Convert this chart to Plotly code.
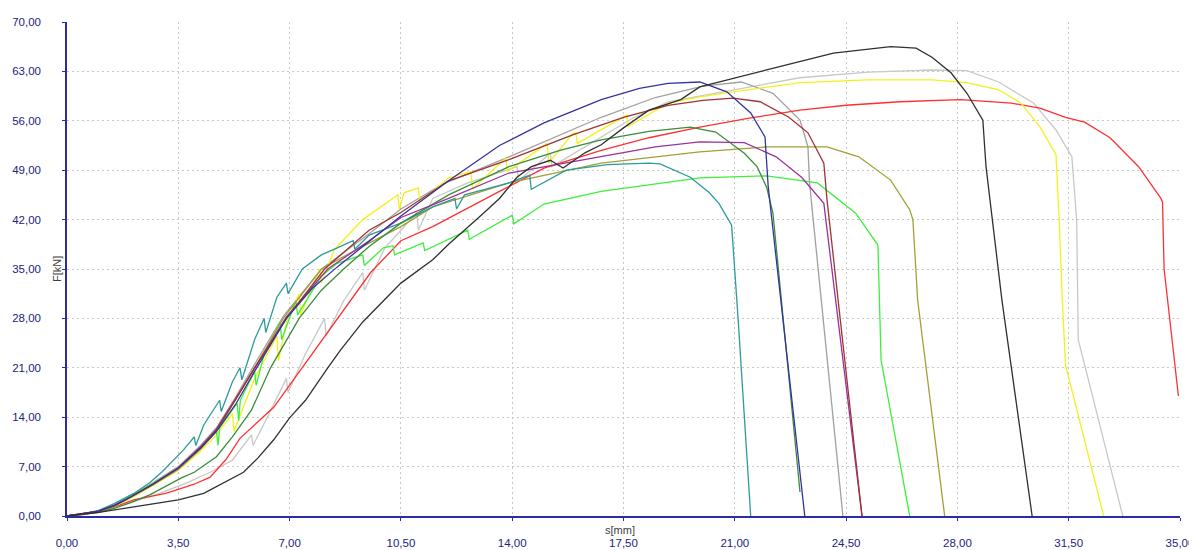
import plotly.graph_objects as go

# ---- data (s [mm], F [kN]) ----
TEAL_S = [0, 0.5, 1, 1.5, 2.1, 2.6, 3, 3.65, 4.0, 4.05, 4.3, 4.8, 4.85, 5.2, 5.44, 5.5, 5.9, 6.2, 6.25, 6.6, 6.9, 6.95, 7.4, 8.0, 8.5, 9.0, 9.05, 9.5, 10.5, 11.5, 12.2, 12.25, 12.5, 13.9, 14.55, 14.6, 15.7, 17.0, 18.3, 18.65, 19.6, 20.2, 20.5, 20.9, 21.1, 21.5]
TEAL_F = [0, 0.3, 0.8, 1.8, 3.2, 4.7, 6.3, 9.3, 11.2, 10.0, 12.9, 16.4, 14.8, 19.0, 21.0, 19.3, 25.0, 28.0, 26.0, 31.0, 33.0, 31.5, 35.0, 37.0, 38.0, 39.0, 37.8, 39.8, 41.5, 43.8, 45.0, 43.5, 45.5, 47.2, 48.3, 46.3, 49.0, 49.8, 50.0, 49.9, 48.0, 45.8, 44.3, 41.2, 28.2, 0]

DKGREEN_S = [0, 0.5, 1, 1.5, 2, 2.6, 3.1, 3.6, 4.0, 4.7, 5.2, 5.8, 6.4, 7.3, 8.0, 8.7, 9.5, 10.5, 12.0, 13.9, 15.5, 16.8, 18.3, 19.6, 20.4, 20.9, 21.3, 21.7, 22.0, 22.2, 23.05]
DKGREEN_F = [0, 0.2, 0.5, 1.1, 1.9, 3.0, 4.2, 5.4, 6.2, 8.4, 11.2, 15.0, 21.0, 28.0, 32.0, 35.0, 38.2, 41.5, 45.5, 49.5, 51.8, 53.3, 54.5, 55.1, 54.4, 52.8, 51.4, 49.5, 46.6, 42.9, 3.4]

NAVY_S = [0, 0.5, 1, 1.5, 2, 2.7, 3.5, 4.2, 4.7, 5.3, 5.9, 6.9, 7.7, 8.5, 9.95, 10.5, 12.0, 13.6, 15.0, 16.8, 18.0, 18.9, 19.9, 20.75, 21.5, 21.95, 22.05, 23.2]
NAVY_F = [0, 0.3, 0.7, 1.5, 2.7, 4.5, 6.8, 9.6, 12.0, 15.8, 20.5, 28.0, 32.2, 35.3, 40.5, 42.5, 47.5, 52.5, 55.7, 59.0, 60.6, 61.3, 61.5, 60.1, 57.1, 53.7, 46.7, 0]

DKGREY_S = [0, 0.5, 1, 1.5, 2, 2.7, 3.5, 4.2, 4.7, 5.3, 5.9, 6.8, 8.0, 9.5, 10.5, 11.8, 13.9, 15.5, 16.8, 18.5, 20.0, 21.2, 22.2, 23.05, 23.3, 23.35, 24.4]
DKGREY_F = [0, 0.3, 0.75, 1.6, 2.8, 4.7, 7.0, 10.0, 12.5, 16.8, 21.5, 28.3, 35.0, 40.0, 43.5, 47.0, 50.9, 54.0, 56.5, 59.3, 60.9, 61.5, 59.9, 56.1, 52.3, 47.2, 0]

MAROON_S = [0, 0.5, 1, 1.5, 2, 2.7, 3.5, 4.2, 4.7, 5.3, 5.9, 6.9, 8.1, 9.5, 10.5, 12.0, 13.9, 15.9, 17.5, 18.9, 20.0, 20.95, 21.8, 22.7, 23.3, 23.8, 23.9, 25.0]
MAROON_F = [0, 0.3, 0.7, 1.5, 2.7, 4.5, 6.8, 9.7, 12.2, 16.5, 21.0, 28.0, 35.0, 40.5, 43.0, 47.5, 50.5, 54.0, 56.5, 58.2, 58.9, 59.2, 58.7, 56.5, 54.3, 50.0, 44.8, 0]

PURPLE_S = [0, 0.5, 1, 1.5, 2, 2.7, 3.5, 4.2, 4.7, 5.3, 5.9, 6.9, 8.2, 9.5, 10.5, 12.0, 13.9, 16.8, 18.5, 19.9, 21.3, 22.3, 23.1, 23.8, 25.0]
PURPLE_F = [0, 0.3, 0.7, 1.5, 2.7, 4.5, 6.8, 9.8, 12.3, 16.6, 21.0, 28.2, 35.0, 39.0, 42.3, 45.0, 48.6, 50.9, 52.3, 53.0, 52.9, 50.9, 48.0, 44.3, 0]

OLIVE_S = [0, 0.5, 1, 1.5, 2, 2.7, 3.5, 4.2, 4.7, 5.3, 5.9, 6.8, 8.0, 9.0, 10.5, 11.5, 13.9, 16.8, 19.9, 22.0, 23.9, 24.9, 25.9, 26.5, 26.6, 26.75, 27.6]
OLIVE_F = [0, 0.25, 0.6, 1.4, 2.6, 4.4, 6.6, 9.5, 12.0, 16.4, 21.0, 28.0, 35.0, 37.5, 41.0, 43.8, 47.2, 50.0, 51.6, 52.3, 52.3, 50.9, 47.6, 43.4, 42.0, 30.6, 0]

LTGREEN_S = [0, 0.5, 1, 1.5, 2, 2.7, 3.5, 4.2, 4.7, 4.75, 4.8, 5.35, 5.4, 5.45, 5.9, 5.95, 6.2, 6.7, 6.75, 7.2, 7.25, 8.0, 8.5, 9.3, 9.35, 9.95, 10.25, 10.3, 11.2, 11.25, 12.6, 12.65, 14.0, 14.05, 15.0, 16.8, 19.9, 22.0, 23.6, 24.8, 25.5, 25.6, 26.5]
LTGREEN_F = [0, 0.3, 0.7, 1.5, 2.8, 4.5, 6.7, 9.6, 12.0, 10.0, 12.5, 16.0, 13.5, 16.4, 20.5, 18.5, 23.0, 27.5, 25.0, 30.5, 28.5, 34.0, 35.8, 37.0, 35.5, 38.0, 38.3, 37.0, 38.7, 37.6, 40.5, 39.2, 42.6, 41.4, 44.2, 46.0, 47.9, 48.2, 47.2, 42.9, 38.4, 22.1, 0]

YELLOW_S = [0, 0.5, 1, 1.5, 2, 2.7, 3.5, 4.2, 4.7, 5.2, 5.25, 5.9, 6.6, 6.65, 6.9, 7.3, 7.35, 7.95, 8.0, 8.4, 9.3, 10.4, 10.45, 10.6, 11.05, 11.1, 12.0, 12.7, 12.75, 13.5, 13.8, 13.85, 15.1, 15.15, 15.9, 16.0, 16.05, 17.6, 17.65, 18.9, 19.9, 20.95, 23.05, 25.2, 27.2, 28.3, 29.3, 30.0, 30.6, 31.1, 31.2, 31.3, 31.4, 32.6]
YELLOW_F = [0, 0.25, 0.6, 1.4, 2.5, 4.3, 6.5, 9.2, 11.5, 14.5, 12.0, 19.5, 25.5, 22.0, 27.5, 31.5, 28.5, 35.0, 33.0, 37.7, 42.0, 45.5, 43.5, 45.8, 46.5, 44.5, 47.9, 48.8, 46.3, 49.5, 50.7, 48.8, 52.8, 50.0, 54.2, 54.3, 52.8, 56.8, 55.2, 58.5, 59.4, 60.1, 61.4, 61.8, 61.8, 61.4, 60.4, 58.5, 55.1, 51.2, 42.0, 30.6, 21.4, 0]

RED_S = [0, 0.5, 1, 1.5, 2.1, 3.1, 3.45, 4.0, 4.5, 5.0, 5.44, 6.0, 6.5, 7.2, 8.35, 9.55, 10.5, 11.5, 13.6, 15.0, 16.8, 18.3, 19.9, 21.5, 23.05, 24.5, 26.2, 28.1, 29.7, 30.6, 31.4, 32.0, 32.8, 33.7, 34.4, 34.45, 34.5, 34.95]
RED_F = [0, 0.2, 0.6, 1.3, 2.3, 3.2, 3.7, 4.5, 5.5, 8.0, 11.0, 13.4, 15.4, 19.8, 27.0, 34.5, 39.0, 41.0, 46.0, 49.3, 51.8, 53.6, 55.1, 56.4, 57.5, 58.2, 58.7, 59.0, 58.5, 57.8, 56.5, 55.8, 53.6, 49.5, 45.0, 44.5, 35.0, 17.0]

LTGREY_S = [0, 0.5, 1, 1.5, 2, 2.9, 3.77, 4.5, 5.2, 5.8, 5.85, 6.3, 6.9, 6.95, 7.5, 8.1, 8.15, 8.7, 9.3, 9.35, 10.0, 10.5, 11.0, 11.05, 11.5, 12.6, 14.15, 14.2, 15.2, 15.25, 16.8, 17.8, 18.9, 20.95, 23.05, 25.2, 27.2, 28.3, 29.3, 30.4, 31.1, 31.6, 31.75, 31.8, 33.2]
LTGREY_F = [0, 0.2, 0.5, 1.1, 1.9, 3.2, 4.7, 6.2, 7.9, 11.5, 10.0, 14.0, 19.5, 17.5, 23.0, 28.0, 25.5, 30.5, 34.5, 32.0, 38.0, 40.5, 43.0, 40.5, 45.0, 47.2, 49.5, 47.5, 51.4, 49.5, 53.7, 56.4, 58.7, 60.4, 62.1, 62.9, 63.2, 63.1, 61.5, 58.5, 54.7, 50.9, 42.0, 25.0, 0]

BLACK_S = [0, 1, 2.1, 3.5, 4.3, 5.55, 6.0, 6.5, 7.0, 7.5, 8.2, 8.6, 9.3, 10.5, 11.5, 12.0, 13.0, 13.6, 14.15, 14.6, 15.2, 15.6, 16.3, 16.8, 17.5, 18.3, 19.3, 19.9, 22.0, 24.1, 25.9, 26.7, 27.2, 27.8, 28.3, 28.8, 28.9, 29.4, 30.35]
BLACK_F = [0, 0.5, 1.3, 2.3, 3.2, 6.2, 8.2, 10.8, 13.9, 16.4, 21.0, 23.5, 27.5, 33.0, 36.3, 38.5, 42.5, 45.0, 48.0, 49.5, 50.4, 49.3, 51.5, 52.6, 55.0, 57.5, 59.0, 60.8, 63.2, 65.6, 66.5, 66.3, 65.0, 62.8, 59.9, 56.1, 49.5, 30.6, 0]

X_TICKS = [0, 3.5, 7, 10.5, 14, 17.5, 21, 24.5, 28, 31.5, 35]
Y_TICKS = [0, 7, 14, 21, 28, 35, 42, 49, 56, 63, 70]

series = [
    (LTGREY_S, LTGREY_F, "#c8c8c8"),
    (DKGREY_S, DKGREY_F, "#a0a0a0"),
    (RED_S, RED_F, "#ff3030"),
    (YELLOW_S, YELLOW_F, "#f2f21a"),
    (LTGREEN_S, LTGREEN_F, "#3cf03c"),
    (OLIVE_S, OLIVE_F, "#a0a038"),
    (TEAL_S, TEAL_F, "#2e9a9a"),
    (DKGREEN_S, DKGREEN_F, "#3a8c3a"),
    (PURPLE_S, PURPLE_F, "#9a339a"),
    (MAROON_S, MAROON_F, "#a03232"),
    (NAVY_S, NAVY_F, "#3434a0"),
    (BLACK_S, BLACK_F, "#303030"),
]

fig = go.Figure()
for s, f, c in series:
    fig.add_trace(go.Scatter(x=s, y=f, mode="lines", line=dict(color=c, width=1.3),
                             hoverinfo="skip", showlegend=False))

axis_col = "#2b2ba6"
lbl_col = "#222280"
common = dict(showgrid=True, gridcolor="#c8c8c8", griddash="2px,3px", gridwidth=1,
              zeroline=False, showline=True, linecolor=axis_col, linewidth=1.5,
              ticks="outside", ticklen=3, tickcolor=axis_col, tickformat=".2f",
              automargin=False, tickfont=dict(size=11.5, color=lbl_col))
# the page body adds an 8px offset, so the figure is 8px smaller on each axis
fig.update_layout(
    width=1189, height=542,
    margin=dict(l=59, r=17, t=14, b=34),
    paper_bgcolor="white", plot_bgcolor="white",
    separators=",.",
    font=dict(family="Liberation Sans, Arial, sans-serif", size=12, color=lbl_col),
    xaxis=dict(range=[0, 35], tickvals=X_TICKS, ticklabelstandoff=12, **common),
    yaxis=dict(range=[0, 70], tickvals=Y_TICKS, ticklabelstandoff=19, **common),
    annotations=[
        dict(text="s[mm]", xref="paper", yref="paper", x=0.497, y=0, yshift=-14,
             xanchor="center", yanchor="middle",
             showarrow=False, font=dict(size=11, color="#404040")),
        dict(text="F[kN]", xref="paper", yref="paper", x=0, y=0.5, xshift=-10,
             xanchor="center", yanchor="middle",
             textangle=-90, showarrow=False, font=dict(size=11, color="#404040")),
    ],
)

fig.write_html("out.html")
